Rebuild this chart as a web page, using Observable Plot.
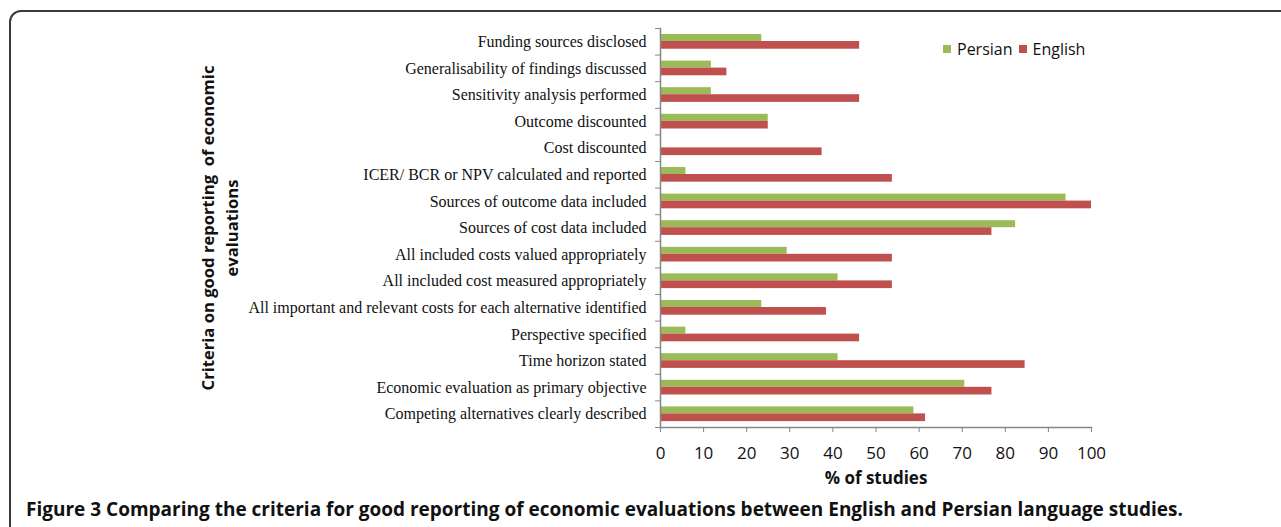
<!DOCTYPE html>
<html>
<head>
<meta charset="utf-8">
<script src="https://cdn.jsdelivr.net/npm/d3@7"></script>
<script src="https://cdn.jsdelivr.net/npm/@observablehq/plot@0.6"></script>
<style>
  html, body { margin: 0; padding: 0; background: #fff; overflow: hidden; }
  #wrap { position: relative; width: 1281px; height: 527px; overflow: hidden; }
  #frame { position: absolute; left: 9px; top: 10px; width: 1400px; height: 700px;
           border: 2px solid #3a3a3a; border-radius: 12px; box-sizing: border-box; }
  #chart { position: absolute; left: 0; top: 0; }
  #legend { position: absolute; left: 943px; top: 38px; font-family: "Open Sans", sans-serif;
            font-size: 16px; color: #111; display: flex; align-items: center; white-space: nowrap; }
  #legend .sw { display: inline-block; width: 8px; height: 8px; margin-right: 6px; }
  #legend .item { display: flex; align-items: center; margin-right: 6px; }
  #caption { position: absolute; left: 26px; top: 496px; font-family: "Open Sans", sans-serif;
             font-weight: bold; font-size: 19px; color: #111; white-space: nowrap; letter-spacing: 0px; }
</style>
</head>
<body>
<div id="wrap">
  <div id="frame"></div>
  <div id="chart"></div>
  <div id="legend"></div>
  <div id="caption"></div>
</div>
<script>
const categories = [
  "Funding sources disclosed",
  "Generalisability of findings discussed",
  "Sensitivity analysis performed",
  "Outcome discounted",
  "Cost discounted",
  "ICER/ BCR or NPV calculated and reported",
  "Sources of outcome data included",
  "Sources of cost data included",
  "All included costs valued appropriately",
  "All included cost measured appropriately",
  "All important and relevant costs for each alternative identified",
  "Perspective specified",
  "Time horizon stated",
  "Economic evaluation as primary objective",
  "Competing alternatives clearly described"
];
const persian = [23.5, 11.8, 11.8, 25, 0, 5.9, 94.1, 82.4, 29.4, 41.2, 23.5, 5.9, 41.2, 70.6, 58.8];
const english = [46.2, 15.4, 46.2, 25, 37.5, 53.8, 100, 76.9, 53.8, 53.8, 38.5, 46.2, 84.6, 76.9, 61.5];
const seriesNames = ["Persian", "English"];
const seriesColors = ["#9BBB59", "#C0504D"];
const xTicks = [0, 10, 20, 30, 40, 50, 60, 70, 80, 90, 100];
const xTitle = "% of studies";
const yTitle = "Criteria on good reporting  of economic\nevaluations";
const captionBold = "Figure 3";
const captionText = " Comparing the criteria for good reporting of economic evaluations between English and Persian language studies.";

const persianData = categories.map((c, i) => ({category: c, value: persian[i]}));
const englishData = categories.map((c, i) => ({category: c, value: english[i]}));

const H = 495, plotTop = 28, plotBottom = 427;
const band = (plotBottom - plotTop) / categories.length;
const gray = "#868686";

const chart = Plot.plot({
  width: 1281,
  height: H,
  marginTop: plotTop,
  marginBottom: H - plotBottom,
  marginLeft: 660,
  marginRight: 1281 - 1091,
  style: {background: "transparent", overflow: "visible"},
  x: {domain: [0, 100]},
  y: {domain: categories, padding: 0, round: false},
  marks: [
    Plot.barX(persianData, {x: "value", y: "category", fill: seriesColors[0],
      insetTop: 6, insetBottom: band - 13}),
    Plot.barX(englishData, {x: "value", y: "category", fill: seriesColors[1],
      insetTop: 13, insetBottom: band - 20.7}),
    Plot.frame({anchor: "left", stroke: gray, strokeWidth: 1.5}),
    Plot.frame({anchor: "bottom", stroke: gray, strokeWidth: 1.5}),
    Plot.axisY({tickSize: 0, tickPadding: 14, fontFamily: "'Liberation Serif', 'Times New Roman', serif",
      fontSize: 16, color: "#111", label: null}),
    Plot.axisY({tickSize: 5, text: null, dy: -band / 2, stroke: gray, label: null}),
    Plot.axisY(categories.slice(-1), {tickSize: 5, text: null, dy: band / 2, stroke: gray, label: null}),
    Plot.axisX(xTicks, {tickSize: 5, tickPadding: 14, stroke: gray, fontFamily: "'Open Sans', sans-serif",
      fontSize: 17, color: "#111", label: null}),
    Plot.text([xTitle], {frameAnchor: "bottom", lineAnchor: "middle", textAnchor: "middle", dy: 51,
      fontFamily: "'Open Sans', sans-serif", fontSize: 17, fontWeight: "bold", fill: "#111"}),
    Plot.text([yTitle], {frameAnchor: "left", lineAnchor: "middle", textAnchor: "middle", rotate: -90, dx: -442,
      fontFamily: "'Open Sans', sans-serif", fontSize: 16.6, fontWeight: "bold", fill: "#111", lineHeight: 1.4})
  ]
});
document.getElementById("chart").appendChild(chart);

const legend = document.getElementById("legend");
seriesNames.forEach((name, i) => {
  const item = document.createElement("span");
  item.className = "item";
  const sw = document.createElement("span");
  sw.className = "sw";
  sw.style.background = seriesColors[i];
  item.appendChild(sw);
  item.appendChild(document.createTextNode(name));
  legend.appendChild(item);
});

const cap = document.getElementById("caption");
const b = document.createElement("span");
b.textContent = captionBold;
cap.appendChild(b);
cap.appendChild(document.createTextNode(captionText));
</script>
</body>
</html>
